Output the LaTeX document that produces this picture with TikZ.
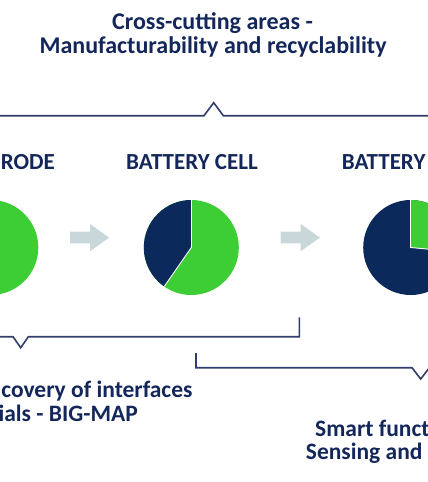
\documentclass[tikz,border=0pt]{standalone}
\usepackage{fontspec}
\setmainfont{Carlito}
\definecolor{navy}{HTML}{0B2A5B}
\definecolor{txtnavy}{HTML}{14275A}
\definecolor{lgreen}{HTML}{3DCD35}
\definecolor{linecol}{HTML}{2E3D6B}
\definecolor{arrowcol}{HTML}{CAD7DA}
\begin{document}
\begin{tikzpicture}[x=1pt,y=-1pt,
  lbl/.style={inner sep=0pt,text=txtnavy,font=\fontsize{23}{25}\selectfont\bfseries},
  blbl/.style={inner sep=0pt,text=txtnavy,font=\fontsize{23.5}{25}\selectfont\bfseries},
  ttl/.style={inner sep=0pt,text=txtnavy,font=\fontsize{24}{26}\selectfont\bfseries},
  brack/.style={draw=linecol,line width=1.6pt,line join=miter},
  sep/.style={draw=white,line width=0.9pt},
  blockarrow/.style={fill=arrowcol}]
\useasboundingbox (0,0) rectangle (428,482);
\clip (0,0) rectangle (428,482);
% title
\node[ttl,anchor=base] (t1) at (212.5,29.3) {Cross-cutting areas -};
\node[ttl,anchor=base] (t2) at (213,53) {Manufacturability and recyclability};
% top bracket
\draw[brack] (-5,115.7) -- (204,115.7) -- (213.7,102.7) -- (223.3,115.7) -- (433,115.7);
% headers
\node[lbl,anchor=base west] (h1) at (0.6,169.3) {RODE};
\node[lbl,anchor=base] (h2) at (192,169.3) {BATTERY CELL};
\node[lbl,anchor=base west] (h3) at (341.7,169.3) {BATTERY};
% electrode pie
\fill[lgreen] (-9.2,247.5) circle (47.5);
% battery cell pie
\coordinate (c2) at (191.3,247.5);
\fill[lgreen] (c2) circle (47.5);
\fill[navy] (c2) -- ++(0,-47.5) arc[start angle=-90,end angle=-235.3,radius=47.5] -- cycle;
\draw[sep] (c2) -- ++(0,-47.5);
\draw[sep] (c2) -- ++(-27.0,38.9);
% battery pack pie
\coordinate (c3) at (410.7,247.5);
\fill[navy] (c3) circle (47.5);
\fill[lgreen] (c3) -- ++(0,-47.5) arc[start angle=-90,end angle=5.5,radius=47.5] -- cycle;
\draw[sep] (c3) -- ++(0,-47.5);
\draw[sep] (c3) -- ++(47.3,4.5);
% block arrows
\fill[blockarrow] (70,231.7) -- (90,231.7) -- (90,224) -- (109,237.6) -- (90,251.2) -- (90,243.3) -- (70,243.3) -- cycle;
\fill[blockarrow] (280.7,231.7) -- (300.7,231.7) -- (300.7,224) -- (320,237.6) -- (300.7,251.2) -- (300.7,243.3) -- (280.7,243.3) -- cycle;
% bottom bracket 1
\draw[brack] (-5,336.7) -- (13,336.7) -- (20.7,347.7) -- (28.4,336.7) -- (299.3,336.7) -- (299.3,317.3);
% bottom bracket 2
\draw[brack] (196,353) -- (196,367.7) -- (412,367.7) -- (420.7,379) -- (429.4,367.7) -- (433,367.7);
% bottom texts
\node[blbl,anchor=base east] (b1) at (192.7,397) {covery of interfaces};
\node[blbl,anchor=base east] (b2) at (138,421.7) {ials - BIG-MAP};
\node[blbl,anchor=base west] (r1) at (315,436.7) {Smart funct};
\node[blbl,anchor=base west] (r2) at (305.7,459) {Sensing and};
\end{tikzpicture}
\end{document}
